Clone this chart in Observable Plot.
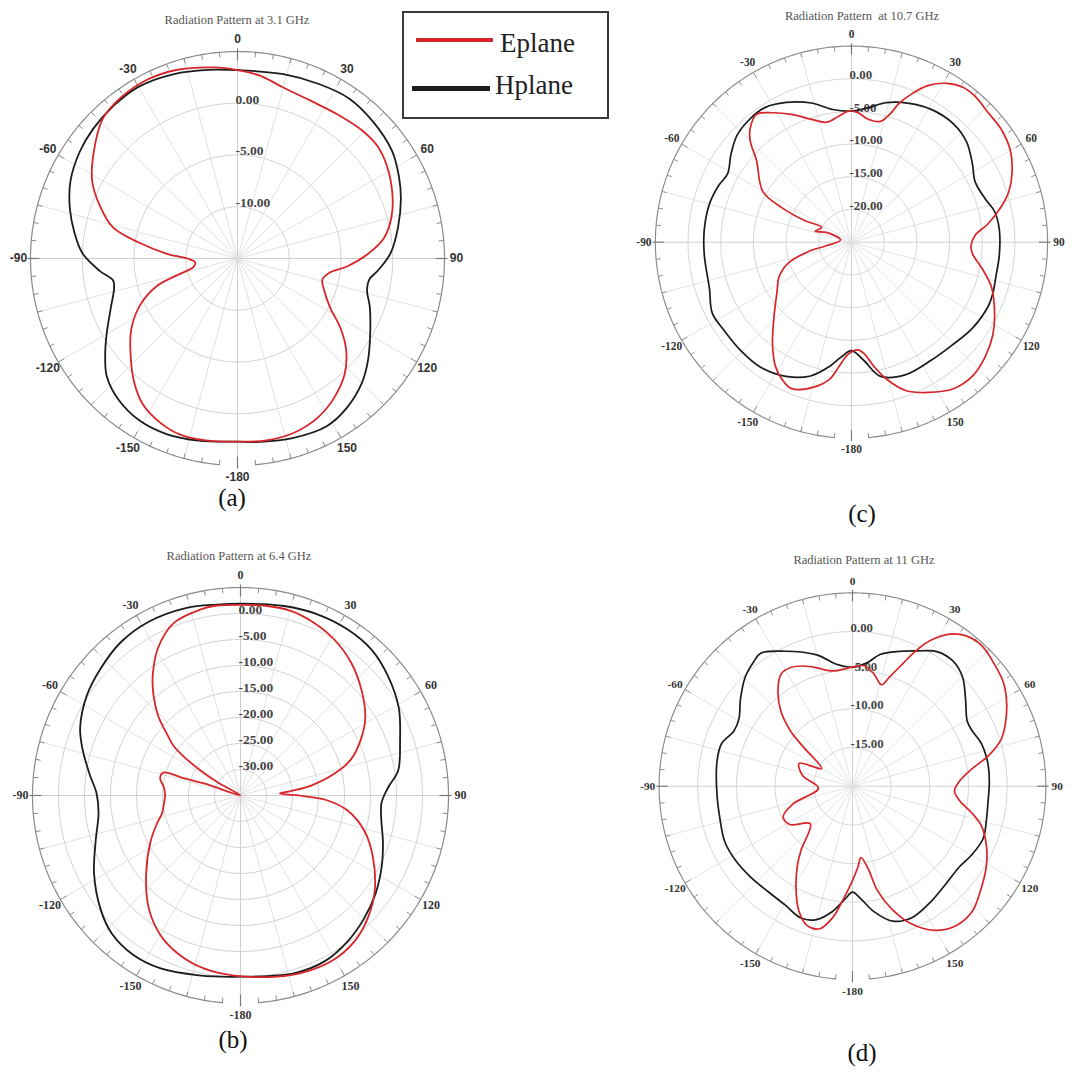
<!DOCTYPE html>
<html>
<head>
<meta charset="utf-8">
<script src="https://cdn.jsdelivr.net/npm/d3@7"></script>
<script src="https://cdn.jsdelivr.net/npm/@observablehq/plot@0.6"></script>
<style>
  html, body { margin: 0; padding: 0; background: #fff; }
  #page { position: relative; width: 1089px; height: 1076px; overflow: hidden; background: #fff;
          font-family: "Liberation Serif", "Times New Roman", serif; }
  .panel { position: absolute; }
  .title { position: absolute; font-size: 12.5px; color: #555; transform: translate(-50%, -50%); white-space: pre; }
  .tag { position: absolute; font-size: 25px; line-height: 25px; color: #111; transform: translate(-50%, -50%); }
  #legend { position: absolute; left: 402px; top: 11px; width: 207px; height: 108px; box-sizing: border-box;
            border: 2px solid #3a3a3a; background: #fff; }
  .sw { position: absolute; }
  .lt { position: absolute; font-size: 27px; line-height: 27px; color: #222; }
</style>
</head>
<body>
<div id="page"></div>
<script>
// ---------------- data ----------------
const titles = ["Radiation Pattern at 3.1 GHz", "Radiation Pattern at 6.4 GHz",
                "Radiation Pattern  at 10.7 GHz", "Radiation Pattern at 11 GHz"];
const panelTags = ["(a)", "(b)", "(c)", "(d)"];
const seriesNames = ["Eplane", "Hplane"];
// dB range of each polar panel: centre value and outer-circle value
const rMin = [-15, -35, -25, -20];
const rMax = [5, 5, 5, 5];
// grid rings with their labels
const rings_a = [-10, -5, 0];
const rings_b = [-30, -25, -20, -15, -10, -5, 0];
const rings_c = [-20, -15, -10, -5, 0];
const rings_d = [-15, -10, -5, 0];
// angular labels (degrees, clockwise from top)
const angleLabels = [0, 30, 60, 90, 120, 150, 180, -150, -120, -90, -60, -30];
const angleLabelText = ["0", "30", "60", "90", "120", "150", "-180", "-150", "-120", "-90", "-60", "-30"];

// [angle (deg), gain (dB)] in drawing order
const a_H = [[-168,3.0],[-158,3.3],[-149,3.3],[-140,2.85],[-132,2.0],[-126,0.8],[-120,-0.4],[-111,-1.9],[-104,-2.7],[-100,-2.8],[-95,-1.6],[-88,0.0],[-81,0.95],[-73,1.95],[-65,2.8],[-56,3.4],[-48,3.75],[-39,4.0],[-30,4.15],[-19,3.85],[-9,3.45],[0,3.2],[14,3.35],[25,3.6],[35,3.85],[45,3.6],[55,3.2],[63,2.5],[70,1.8],[79,0.8],[88,-0.2],[95,-1.4],[99,-2.1],[104,-2.1],[110,-1.4],[120,-0.2],[128,1.0],[135,2.0],[144,2.9],[152,3.35],[163,3.15],[173,2.85],[180,2.7]];
const a_E = [[-170,2.85],[-162,2.9],[-155,2.55],[-147,1.8],[-140,0.55],[-132,-1.1],[-124,-2.6],[-116,-4.45],[-109,-6.7],[-105,-9.25],[-101,-10.65],[-95,-10.9],[-91,-10.4],[-86,-8.1],[-81,-5.45],[-76,-2.6],[-69,-0.75],[-62,0.9],[-54,2.2],[-44,3.75],[-36,4.2],[-27,4.35],[-18,4.15],[-7,3.6],[0,3.2],[7,2.8],[15,2.1],[25,1.8],[35,1.95],[44,2.25],[51,2.35],[58,2.0],[67,1.25],[75,0.4],[82,-0.7],[88,-2.4],[94,-4.35],[99,-6.05],[104,-6.55],[110,-6.1],[118,-4.85],[124,-3.0],[130,-1.3],[137,0.2],[145,1.35],[153,2.2],[162,2.7],[171,2.8],[180,2.7]];

const b_H = [[-167,0.5],[-155,1.65],[-146,1.95],[-137,1.3],[-129,-0.35],[-118,-3.1],[-107,-5.9],[-97,-7.5],[-89,-7.3],[-82,-5.7],[-73,-3.15],[-67,-1.5],[-57,0.25],[-48,1.3],[-38,2.4],[-28,2.8],[-16,2.55],[-7,2.0],[0,1.9],[13,2.4],[23,2.85],[33,3.0],[42,2.7],[51,1.5],[61,-0.2],[71,-2.55],[81,-4.3],[87,-6.6],[93,-7.85],[100,-7.5],[108,-6.2],[117,-4.55],[126,-2.9],[135,-1.45],[144,-0.15],[153,0.75],[163,0.7],[180,-0.15]];
const b_E = [[-178,-0.35],[-168,-1.0],[-159,-2.2],[-150,-4.1],[-141,-7.0],[-130,-11.3],[-117,-15.6],[-108,-18.2],[-103,-19.5],[-96,-20.2],[-90,-20.5],[-84,-20.2],[-78,-19.2],[-73.5,-19.5],[-73,-23.5],[-71.5,-28],[-65,-35],[-60,-30],[-58,-26],[-56,-22.5],[-53.5,-19],[-50,-16.5],[-46,-13],[-41,-9.5],[-36,-6.3],[-29,-2.4],[-21,0.6],[-12,1.6],[-8,1.8],[0,1.65],[8,1.8],[15,1.8],[23,1.1],[31,0.0],[40,-1.8],[49,-4.15],[58,-6.7],[65,-9.45],[72,-12.7],[77,-16.5],[82,-21.3],[85,-25.3],[87,-27.4],[90.5,-23],[93,-18.5],[98,-14.2],[106,-10.2],[115,-6.9],[125.5,-3.3],[134,-1.0],[142,0.6],[151,1.35],[161,1.1],[168.5,0.55]];

const c_H = [[-175,-7.4],[-170,-5.7],[-163,-3.6],[-154,-2.15],[-144,-1.35],[-134,-1.3],[-125,-1.3],[-117,-1.1],[-108,-2.15],[-95,-2.4],[-85,-2.4],[-75,-2.5],[-67,-2.9],[-61,-3.35],[-54,-2.2],[-47,-1.05],[-40,-0.6],[-33,-0.5],[-25,-1.4],[-16,-2.85],[-8,-4.5],[0,-4.95],[7,-4.3],[14,-3.0],[22.5,-2.0],[31,-1.3],[41,-1.1],[49,-1.65],[57,-2.95],[64,-3.95],[72,-3.5],[78,-2.6],[85,-2.3],[95,-2.3],[103,-2.3],[110,-2.0],[115,-1.9],[125.5,-2.3],[135,-2.95],[146,-3.2],[158,-3.1],[168,-4.05],[174,-6.8],[180,-8.4]];
const c_E = [[-178.5,-7.9],[-174.3,-5.9],[-170.9,-3.75],[-165.4,-2.1],[-157.8,-0.8],[-153.1,-1.5],[-148.6,-2.7],[-142.3,-5.25],[-133.6,-8.65],[-123,-11.45],[-115.9,-12.65],[-108.4,-14.8],[-102.5,-18.1],[-98,-21.1],[-78.5,-23.3],[-68.6,-20.9],[-73.4,-19.2],[-63.4,-19.9],[-65.2,-17.0],[-63.6,-13.1],[-60.3,-9.4],[-49.2,-5.8],[-45.1,-3.15],[-41.7,-1.7],[-36.6,-0.65],[-31.4,-1.8],[-25.1,-3.4],[-18.4,-5.15],[-11.8,-6.25],[-5.6,-5.6],[-1.2,-4.95],[2.9,-5.15],[7.5,-6.0],[13.5,-6.0],[16.7,-4.55],[19,-2.5],[22.2,-0.45],[26,1.65],[31,3.35],[35.7,4.2],[40.5,4.25],[46.6,3.8],[52.8,3.7],[60.1,3.05],[66.7,1.75],[72.3,0.25],[76.1,-1.2],[82.3,-3.9],[86.6,-6.0],[91.8,-6.7],[95.5,-6.4],[101.3,-4.65],[107.8,-2.5],[116.2,-0.6],[123.2,0.85],[130.7,1.95],[137.9,2.6],[145.2,2.3],[153,0.8],[159.9,-0.85],[165.6,-3.35],[169.7,-5.65],[173.4,-7.8],[176.5,-8.5]];

const d_H = [[-176.3,-5.4],[-170.9,-3.6],[-164.9,-2.15],[-158.6,-1.7],[-150.4,-2.35],[-141.9,-2.55],[-131.4,-2.35],[-122.6,-2.1],[-113.5,-2.0],[-104.1,-2.35],[-93.3,-2.45],[-80,-2.2],[-71.9,-2.2],[-64.9,-3.1],[-59,-2.9],[-52.1,-1.65],[-44.4,-0.2],[-38.4,0.55],[-34.6,0.9],[-26.5,-0.5],[-15.2,-2.4],[-7.8,-4.05],[0,-4.6],[6.9,-3.9],[11.8,-2.6],[19.1,-1.55],[25.9,-0.55],[32.1,0.55],[38.7,0.75],[45.2,0.05],[52.4,-1.55],[60.5,-2.95],[65.1,-2.95],[71.6,-2.45],[80,-2.25],[88,-2.3],[97.3,-2.35],[104,-2.15],[111.8,-1.8],[119.7,-2.2],[127.1,-2.7],[135.8,-2.55],[145.9,-1.95],[155.7,-1.35],[163.4,-1.8],[170.4,-3.6],[175.7,-5.4],[180,-6.3]];
const d_E = [[-179.4,-7.5],[-174.8,-5.0],[-171.4,-2.8],[-167.1,-1.1],[-162,-1.05],[-156.9,-2.4],[-151.3,-4.8],[-144.8,-7.7],[-141,-9.5],[-131.6,-12.7],[-121.4,-10.5],[-113.8,-10.2],[-106.6,-11.95],[-93.2,-15.6],[-77.9,-13.4],[-66.8,-12.5],[-60.2,-15.4],[-51.4,-11.9],[-48.3,-9.3],[-43.9,-6.7],[-37.7,-4.25],[-32.4,-2.8],[-27.5,-2.7],[-22.3,-3.2],[-17.1,-3.95],[-11.6,-4.75],[-7,-4.9],[0,-4.6],[5.6,-4.35],[10.7,-5.2],[16,-6.35],[18.7,-5.1],[22.2,-2.95],[24.9,-0.8],[28.2,1.4],[32.6,3.35],[36.9,4.35],[42.4,4.7],[49.3,4.2],[55.7,3.65],[61.4,2.7],[68,1.3],[72.8,0.05],[77.5,-2.05],[81.7,-4.4],[87.5,-6.2],[92.7,-6.8],[97.6,-6.05],[102.7,-4.15],[107.1,-2.55],[113.7,-1.1],[121.1,0.2],[129.8,1.45],[136.3,2.4],[143.4,2.45],[150.5,1.4],[156.7,-0.6],[162,-3.2],[166.7,-6.3],[168.9,-8.9],[173.2,-10.7],[176.2,-9.5]];

const panelRings = [rings_a, rings_b, rings_c, rings_d];
const panelE = [a_E, b_E, c_E, d_E];
const panelH = [a_H, b_H, c_H, d_H];

// ---------------- layout & style ----------------
const serif = "'Liberation Serif','Times New Roman',serif";
const sans = "'Liberation Sans',Arial,sans-serif";
const layout = [
  {cx: 237, cy: 258, R: 207, labelFont: sans, labelSize: 12, titleX: 237, titleY: 20, tagX: 232, tagY: 497},
  {cx: 240, cy: 795, R: 208, labelFont: serif, labelSize: 12, titleX: 239, titleY: 556, tagX: 233, tagY: 1039},
  {cx: 863, cy: 253, R: 206, labelFont: serif, labelSize: 12, titleX: 862, titleY: 16, tagX: 862, tagY: 513},
  {cx: 865, cy: 798, R: 204, labelFont: serif, labelSize: 12, titleX: 864, titleY: 560, tagX: 862, tagY: 1052}
];
const colorE = "#d7262a", colorH = "#1c1c1c";
const SW = 500, SH = 470, OX = 250, OY = 235;

const page = document.getElementById("page");
const rad = a => a * Math.PI / 180;

function makePanel(i) {
  const L = layout[i];
  const min = rMin[i], max = rMax[i], D = max - min;
  const k = L.R / D;               // px per dB
  const p = px => px / k;          // px -> dB units
  const r = v => Math.max(0, v - min);
  const X = (a, v) => r(v) * Math.sin(rad(a));
  const Y = (a, v) => r(v) * Math.cos(rad(a));

  const ringPts = panelRings[i].flatMap(v => d3.range(0, 360, 2).map(a => ({a, v})));
  const spokes = d3.range(0, 360, 15);
  const outerPts = d3.range(-175, 175.5, 1);
  const ticks = d3.range(-180, 180, 5);

  return Plot.plot({
    width: SW, height: SH, margin: 0,
    x: {domain: [-D, D], range: [OX - L.R, OX + L.R]},
    y: {domain: [-D, D], range: [OY + L.R, OY - L.R]},
    axis: null,
    style: {background: "transparent", overflow: "visible"},
    marks: [
      Plot.link(spokes, {x1: () => 0, y1: () => 0, x2: a => X(a, max), y2: a => Y(a, max),
        stroke: a => a % 90 === 0 ? "#cfcfcf" : "#e2e2e2", strokeWidth: 1}),
      Plot.line(ringPts, {x: d => X(d.a, d.v), y: d => Y(d.a, d.v), z: "v",
        curve: "linear-closed", stroke: "#d3d3d3", strokeWidth: 1}),
      Plot.line(outerPts, {x: a => X(a, max), y: a => Y(a, max), stroke: "#8a8a8a", strokeWidth: 1.2}),
      Plot.link(ticks.filter(a => a % 30 !== 0), {
        x1: a => X(a, max), y1: a => Y(a, max),
        x2: a => X(a, max - p(5)), y2: a => Y(a, max - p(5)), stroke: "#8a8a8a", strokeWidth: 1}),
      Plot.link(ticks.filter(a => a % 30 === 0 && a % 90 !== 0), {
        x1: a => X(a, max), y1: a => Y(a, max),
        x2: a => X(a, max - p(7)), y2: a => Y(a, max - p(7)), stroke: "#8a8a8a", strokeWidth: 1}),
      Plot.link(ticks.filter(a => a % 90 === 0), {
        x1: a => X(a, max + p(3)), y1: a => Y(a, max + p(3)),
        x2: a => X(a, max - p(9)), y2: a => Y(a, max - p(9)), stroke: "#777", strokeWidth: 1.2}),
      Plot.text(angleLabels, {x: a => X(a, max + p(12)), y: a => Y(a, max + p(12)),
        text: (a, j) => angleLabelText[j], fontWeight: "bold", fontSize: L.labelSize,
        fontFamily: L.labelFont, fill: "#333"}),
      Plot.text(panelRings[i], {x: () => 0, y: v => v - min, text: v => v.toFixed(2),
        textAnchor: "start", dx: -2, dy: -4, fontWeight: "bold", fontSize: 13.5,
        fontFamily: serif, fill: "#444"}),
      Plot.line(panelH[i], {x: d => X(d[0], d[1]), y: d => Y(d[0], d[1]),
        curve: "catmull-rom-closed", stroke: colorH, strokeWidth: 1.8}),
      Plot.line(panelE[i], {x: d => X(d[0], d[1]), y: d => Y(d[0], d[1]),
        curve: "catmull-rom-closed", stroke: colorE, strokeWidth: 1.8})
    ]
  });
}

for (let i = 0; i < 4; i++) {
  const L = layout[i];
  const wrap = document.createElement("div");
  wrap.className = "panel";
  wrap.style.left = (L.cx - OX) + "px";
  wrap.style.top = (L.cy - OY) + "px";
  wrap.appendChild(makePanel(i));
  page.appendChild(wrap);

  const t = document.createElement("div");
  t.className = "title";
  t.style.left = L.titleX + "px";
  t.style.top = L.titleY + "px";
  t.textContent = titles[i];
  page.appendChild(t);

  const g = document.createElement("div");
  g.className = "tag";
  g.style.left = L.tagX + "px";
  g.style.top = L.tagY + "px";
  g.textContent = panelTags[i];
  page.appendChild(g);
}

// legend
const legend = document.createElement("div");
legend.id = "legend";
const legendRows = [
  {sw: {left: 12, top: 25, width: 77, height: 4}, text: {left: 96, top: 17}, color: colorE},
  {sw: {left: 8, top: 73, width: 78, height: 5}, text: {left: 91, top: 59}, color: colorH}
];
seriesNames.forEach((name, j) => {
  const row = legendRows[j];
  const s = document.createElement("div");
  s.className = "sw";
  Object.assign(s.style, {left: row.sw.left + "px", top: row.sw.top + "px",
    width: row.sw.width + "px", height: row.sw.height + "px", background: row.color});
  legend.appendChild(s);
  const tx = document.createElement("div");
  tx.className = "lt";
  tx.style.left = row.text.left + "px";
  tx.style.top = row.text.top + "px";
  tx.textContent = name;
  legend.appendChild(tx);
});
page.appendChild(legend);
</script>
</body>
</html>
